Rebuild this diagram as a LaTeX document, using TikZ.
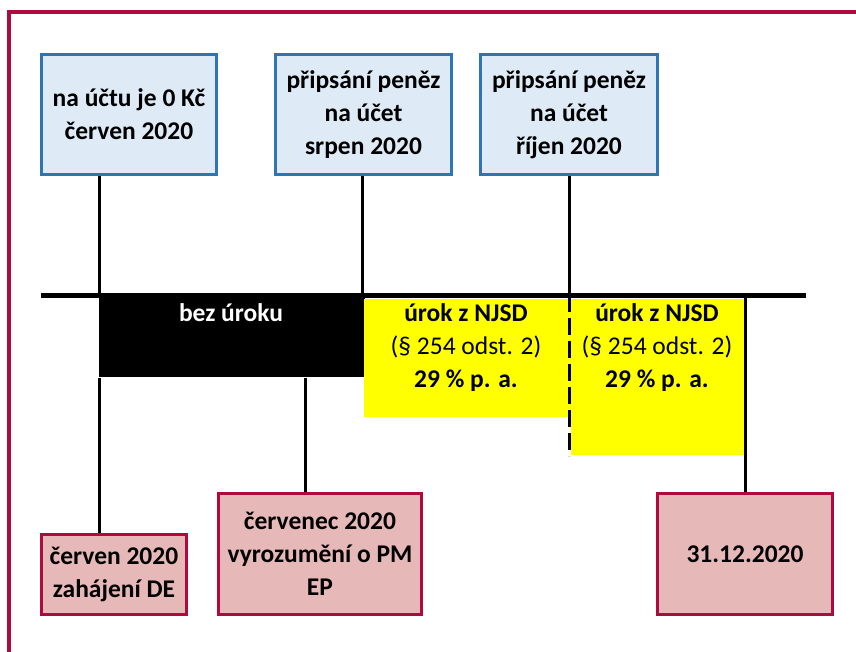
\documentclass[tikz,border=0pt]{standalone}
\usepackage{fontspec}
\setmainfont{Carlito}
\usepackage{tikz}
\usetikzlibrary{positioning}
\definecolor{rimred}{HTML}{AE0A3E}
\definecolor{acctblue}{HTML}{2E75B6}
\definecolor{acctfill}{HTML}{DEEBF7}
\definecolor{datefill}{HTML}{E6B8B7}
\definecolor{njsdyellow}{RGB}{255,255,0}

\begin{document}
\begin{tikzpicture}[x=1pt,y=-1pt,line width=3pt]
  \tikzstyle{topbox}=[draw=acctblue,fill=acctfill,line width=3pt,inner sep=0pt,align=center,font=\bfseries\fontsize{25.5}{33}\selectfont]
  \tikzstyle{datebox}=[draw=rimred,fill=datefill,line width=3.5pt,inner sep=0pt,align=center,font=\bfseries\fontsize{25.5}{33}\selectfont]
  \tikzstyle{period}=[inner sep=0pt,anchor=north west]
  \tikzstyle{ptext}=[inner sep=0pt,align=center,font=\fontsize{25.5}{33}\selectfont]
  \useasboundingbox (0,0) rectangle (856,652);
  \draw[rimred,line width=4pt] (9.3,652) -- (9.3,12) -- (856,12);
  % body na casove ose
  \coordinate (ts) at (41,295);
  \coordinate (te) at (806,295);
  \coordinate (t0) at (99,295);
  \coordinate (t1) at (362,295);
  \coordinate (t2) at (569,295);
  \coordinate (t3) at (305,295);
  \coordinate (t4) at (745,295);
  % obdobi
  \node[period,fill=black,minimum width=266,minimum height=80] (bez) at (97,295) {};
  \node[period,fill=njsdyellow,minimum width=207,minimum height=118] (y1) at (362,297) {};
  \node[period,fill=njsdyellow,minimum width=176,minimum height=156] (y2) at (569,297) {};
  \node[ptext,text=white,font=\bfseries\fontsize{25.5}{33}\selectfont] (beztxt) at (231,313) {bez úroku};
  \node[ptext] (y1txt) at (466,348) {\textbf{úrok z NJSD}\\(§ 254 odst. 2)\\\textbf{29 \% p. a.}};
  \node[ptext] (y2txt) at (657,348) {\textbf{úrok z NJSD}\\(§ 254 odst. 2)\\\textbf{29 \% p. a.}};
  % horni ramecky
  \node[topbox,minimum width=175,minimum height=120] (nula) at (129,114.5) {na účtu je 0 Kč\\červen 2020};
  \node[topbox,minimum width=176,minimum height=120] (srpen) at (363.5,114.5) {připsání peněz\\na účet\\srpen 2020};
  \node[topbox,minimum width=177,minimum height=120] (rijen) at (569,114.5) {připsání peněz\\na účet\\říjen 2020};
  % dolni ramecky
  \node[datebox,minimum width=145,minimum height=80] (zahaj) at (114,574.5) {červen 2020\\zahájení DE};
  \node[datebox,minimum width=203,minimum height=121] (cervenec) at (320,554) {červenec 2020\\vyrozumění o PM\\EP};
  \node[datebox,minimum width=175,minimum height=121] (konec) at (745,554) {31.12.2020};
  % spojnice
  \draw (nula.south -| t0) -- (t0);
  \draw (bez.south -| t0) -- (zahaj.north -| t0);
  \draw (srpen.south -| t1) -- (t1);
  \draw (rijen.south) -- (t2);
  \draw[dash pattern=on 17pt off 6pt] (t2) -- (y2.south west);
  \draw (bez.south -| t3) -- (cervenec.north -| t3);
  \draw (t4) -- (konec.north);
  \draw[line width=5pt] (ts) -- (te);
\end{tikzpicture}
\end{document}
